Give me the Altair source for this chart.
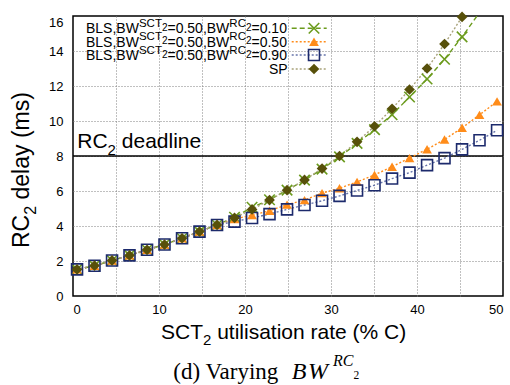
import altair as alt
import pandas as pd

# SCT2 utilisation rate (% C) at which each configuration was evaluated
util = [0.47, 2.50, 4.54, 6.57, 8.61, 10.64, 12.68, 14.71, 16.75, 18.78, 20.82,
        22.85, 24.89, 26.92, 28.96, 30.99, 33.03, 35.06, 37.10, 39.13, 41.17,
        43.20, 45.24, 47.27, 49.31]

# RC2 delay (ms) per configuration
bls_rc010 = [1.52, 1.73, 2.03, 2.32, 2.64, 2.94, 3.30, 3.68, 4.06, 4.50, 5.07,
             5.50, 6.05, 6.62, 7.25, 7.95, 8.72, 9.51, 10.36, 11.37, 12.40,
             13.53, 14.81, 16.20]
bls_rc050 = [1.52, 1.73, 2.03, 2.32, 2.64, 2.94, 3.30, 3.68, 4.06, 4.40, 4.62,
             4.87, 5.22, 5.48, 5.88, 6.16, 6.52, 6.92, 7.39, 7.88, 8.39, 8.94,
             9.61, 10.35, 11.12]
bls_rc090 = [1.52, 1.73, 2.03, 2.32, 2.64, 2.94, 3.30, 3.68, 4.06, 4.25, 4.46,
             4.68, 4.95, 5.20, 5.44, 5.72, 6.03, 6.33, 6.71, 7.05, 7.48, 7.88,
             8.38, 8.90, 9.47]
sp_delay = [1.52, 1.73, 2.03, 2.32, 2.64, 2.94, 3.30, 3.68, 4.06, 4.46, 4.95,
            5.48, 6.05, 6.63, 7.28, 8.00, 8.81, 9.70, 10.70, 11.80, 13.00,
            14.40, 15.95]

rc_bw_labels = ["0.10", "0.50", "0.90"]
rc2_deadline = 8.0

# grid positions
x_grid = [0, 5, 10, 15, 20, 25, 30, 35, 40, 45, 50]
y_grid = [0, 2, 4, 6, 8, 10, 12, 14, 16]

X_MIN, X_MAX, Y_MIN, Y_MAX = 0, 50, 0, 16
W, H = 430, 280          # whole pixels per grid step, so dotted lines stay crisp
SANS = "Liberation Sans"
SERIF = "Liberation Serif"

X_PATH = "M-1,-1L1,1M-1,1L1,-1"

styles = [
    dict(vals=bls_rc010, mcol="#6b9b1d", lcol="#6b9b1d", dash=[5, 3],
         shape=X_PATH, filled=False, size=110, sw=1.6),
    dict(vals=bls_rc050, mcol="#ff8c1a", lcol="#ff8c1a", dash=[2, 2],
         shape="triangle-up", filled=True, size=95, sw=0),
    dict(vals=bls_rc090, mcol="#1c2a6c", lcol="#6674aa", dash=[2, 2],
         shape="square", filled=False, size=120, sw=1.6),
    dict(vals=sp_delay, mcol="#57500a", lcol="#a8a27a", dash=[2, 2],
         shape="diamond", filled=True, size=115, sw=0),
]

xscale = alt.Scale(domain=[X_MIN, X_MAX], nice=False, zero=False)
yscale = alt.Scale(domain=[Y_MIN, Y_MAX], nice=False, zero=False)

x_axis = alt.Axis(
    values=x_grid,
    labelExpr="datum.value % 10 === 0 ? datum.label : ''",
    grid=False, ticks=False, domain=False, title=None,
    labelFont=SANS, labelFontSize=13, labelColor="black", labelPadding=7,
)
y_axis = alt.Axis(
    values=y_grid,
    grid=False, ticks=False, domain=False, title=None,
    labelFont=SANS, labelFontSize=13, labelColor="black", labelPadding=10,
    labelBaseline={"condition": {"test": "datum.value == 16", "value": "top"},
                   "value": "middle"},
)


def X(field="x"):
    return alt.X(f"{field}:Q", scale=xscale, axis=x_axis)


def Y(field="y"):
    return alt.Y(f"{field}:Q", scale=yscale, axis=y_axis)


# pixel offsets inside the plot area -> data units, so annotations share the scales
def px2x(px):
    return X_MIN + px / W * (X_MAX - X_MIN)


def py2y(py):
    return Y_MAX - py / H * (Y_MAX - Y_MIN)


layers = []

# dotted grid, shifted half a pixel onto the pixel centres
grid_rows = [dict(x=g, x2=g, y=Y_MIN, y2=Y_MAX) for g in x_grid[1:-1]]
grid_rows += [dict(x=X_MIN, x2=X_MAX, y=g, y2=g) for g in y_grid[1:-1]]
layers.append(
    alt.Chart(pd.DataFrame(grid_rows))
    .mark_rule(color="#808080", strokeDash=[1, 2], strokeWidth=1,
               xOffset=0.5, x2Offset=0.5, yOffset=0.5, y2Offset=0.5)
    .encode(x=X(), x2="x2:Q", y=Y(), y2="y2:Q")
)

# deadline
layers.append(
    alt.Chart(pd.DataFrame({"y": [rc2_deadline]}))
    .mark_rule(color="black", strokeWidth=1.3)
    .encode(y=Y())
)

# series lines then markers
for st in styles:
    df = pd.DataFrame({"x": util[:len(st["vals"])], "y": st["vals"]})
    layers.append(
        alt.Chart(df).mark_line(clip=True, color=st["lcol"], strokeDash=st["dash"],
                                strokeWidth=1.4)
        .encode(x=X(), y=Y())
    )
for st in styles:
    df = pd.DataFrame({"x": util[:len(st["vals"])], "y": st["vals"]})
    pt = dict(shape=st["shape"], filled=st["filled"], size=st["size"], opacity=1,
              color=st["mcol"])
    if not st["filled"]:
        pt["strokeWidth"] = st["sw"]
    layers.append(
        alt.Chart(df).transform_filter(alt.datum.y <= Y_MAX).mark_point(**pt)
        .encode(x=X(), y=Y())
    )

# ---- rich text (sub/superscripts) laid out from font metrics ----
ARIAL = {" ": 278, "(": 333, ")": 333, ",": 278, ".": 278, "%": 889, "=": 584,
         "B": 667, "C": 722, "L": 556, "P": 667, "R": 722, "S": 667, "T": 611,
         "W": 944, "a": 556, "d": 556, "e": 556, "i": 222, "l": 222, "m": 833,
         "n": 556, "o": 556, "r": 333, "s": 500, "t": 278, "u": 556, "y": 500}
TIMES = {" ": 250, "(": 333, ")": 333, "d": 500, "V": 722, "a": 444, "r": 333,
         "y": 500, "i": 278, "n": 500, "g": 500, "2": 500}
TIMES_IT = {"B": 611, "W": 833, "R": 611, "C": 667}
METRICS = {"sans": ARIAL, "serif": TIMES, "serif_it": TIMES_IT}


def text_width(s, size, kind):
    table = METRICS[kind]
    return sum(table.get(c, 556 if kind == "sans" else 500) for c in s) / 1000 * size


def run(parts, x0, y0, kind="sans", rotated=False):
    rows, adv = [], 0.0
    for s, size, rise, *k in parts:
        kd = k[0] if k else kind
        lead = len(s) - len(s.lstrip(" "))
        adv += text_width(" " * lead, size, kd)
        s = s.lstrip(" ")
        if rotated:
            px, py = x0 - rise, y0 - adv
        else:
            px, py = x0 + adv, y0 - rise
        rows.append(dict(t=s, px=px2x(px), py=py2y(py), size=size, kind=kd,
                         rot=1 if rotated else 0))
        adv += text_width(s, size, kd)
    return rows


rows = []
# key entries
key_centres = [12.3, 25.7, 39.0, 53.0]
for lab, cy in zip(rc_bw_labels, key_centres):
    rows += run([("BLS,BW", 14, 0), ("SCT", 11.5, 6.5), ("2", 10, 2.5),
                 ("=0.50,BW", 14, 0), ("RC", 11.5, 6.5), ("2", 10, 2.5),
                 ("=" + lab, 14, 0)], 13, cy + 5)
rows += run([("SP", 14, 0)], 214.7 - text_width("SP", 14, "sans"), key_centres[3] + 5)
# deadline label
rows += run([("RC", 21, 0), ("2", 15, -6.5), (" deadline", 21, 0)], 4.3, 132.3)
# x title
rows += run([("SCT", 21, 0), ("2", 15, -6.5), (" utilisation rate (% C)", 21, 0)], 88, 322.5)
# y title (rotated)
rows += run([("RC", 23, 0), ("2", 16, -7), (" delay (ms)", 23, 0)], -44, 232, rotated=True)
# caption: "(d) Varying BW^{RC_2}"
rows += run([("(d) Varying", 23, 0)], 100.3, 363, kind="serif")
rows += run([("B", 24, 0, "serif_it")], 218.7, 363, kind="serif")
rows += run([("W", 24, 0, "serif_it")], 235.0, 363, kind="serif")
rows += run([("RC", 16, 13, "serif_it"), ("2", 11.5, 0.5, "serif")], 260.0, 363, kind="serif")

tdf = pd.DataFrame(rows)


def text_layer(df, font, style="normal", angle=0):
    return alt.Chart(df).mark_text(
        align="left", baseline="alphabetic", font=font, fontStyle=style,
        angle=angle, color="black", clip=False,
    ).encode(
        x=X("px"), y=Y("py"),
        size=alt.Size("size:Q", scale=None, legend=None),
        text="t:N",
    )


layers.append(text_layer(tdf[(tdf.kind == "sans") & (tdf.rot == 0)], SANS))
layers.append(text_layer(tdf[(tdf.kind == "sans") & (tdf.rot == 1)], SANS, angle=270))
layers.append(text_layer(tdf[tdf.kind == "serif"], SERIF))
layers.append(text_layer(tdf[tdf.kind == "serif_it"], SERIF, style="italic"))

# key samples
for st, cy in zip(styles, key_centres):
    seg = pd.DataFrame({"x": [px2x(218.7)], "x2": [px2x(253.7)], "y": [py2y(cy)],
                        "m": [px2x(241)]})
    layers.append(
        alt.Chart(seg).mark_rule(color=st["lcol"], strokeDash=st["dash"], strokeWidth=1.4)
        .encode(x=X(), x2="x2:Q", y=Y())
    )
    pt = dict(shape=st["shape"], filled=st["filled"], size=st["size"], opacity=1,
              color=st["mcol"])
    if not st["filled"]:
        pt["strokeWidth"] = st["sw"]
    layers.append(alt.Chart(seg).mark_point(**pt).encode(x=X("m"), y=Y()))

chart = (
    alt.layer(*layers)
    .properties(width=W, height=H,
                autosize=alt.AutoSizeParams(type="none"),
                padding={"left": 73, "top": 16, "right": 510 - 73 - W,
                         "bottom": 385 - 16 - H},
                background="white")
    .configure_view(stroke="black", strokeWidth=1.5)
)

chart.save("out.html", embed_options={"renderer": "svg", "actions": False})
